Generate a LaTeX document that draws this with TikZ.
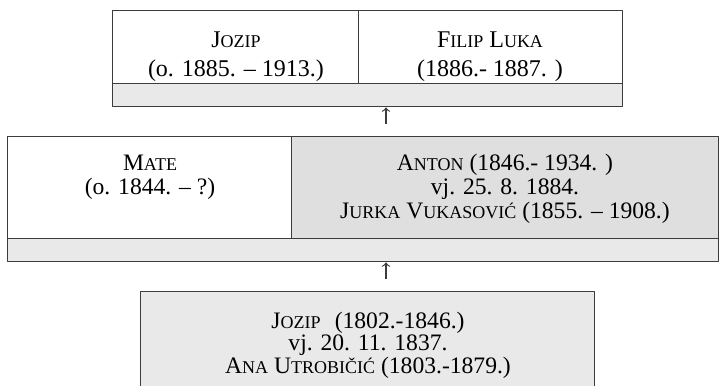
\documentclass[tikz,border=0pt]{standalone}
\usepackage{fontspec}
\setmainfont{LiberationSerif-Regular.ttf}
\newcommand\kap[1]{{\fontsize{9}{10}\selectfont\MakeUppercase{#1}}}
\definecolor{linegray}{HTML}{3C3C3C}
\definecolor{cellgray}{HTML}{DFDFDF}
\definecolor{bargray}{HTML}{E9E9E9}
\begin{document}
\begin{tikzpicture}[x=0.5pt,y=-0.5pt,line join=round,>=to,
		font=\fontsize{11.8}{12}\selectfont,
		cell/.style={draw=linegray,line width=0.7pt,inner sep=0pt,anchor=north west},
		txt/.style={align=center,inner sep=0pt}]
	\useasboundingbox (0,0) rectangle (719,386);
	% children
	\node[cell,minimum width=123pt,minimum height=36.5pt] (jozipc) at (112,10) {};
	\node[cell,minimum width=132pt,minimum height=36.5pt] (filip) at (358,10) {};
	\node[cell,fill=bargray,minimum width=255pt,minimum height=11.5pt] (topbar) at (112,83) {};
	\node[txt,font=\fontsize{12}{14.5}\selectfont] (jozipt) at (236,57) {J\kap{ozip}\\(o. 1885. – 1913.)};
	\node[txt,font=\fontsize{12}{14.5}\selectfont] (filipt) at (490,57) {F\kap{ilip} L\kap{uka}\\(1886.- 1887. )};
	% parents
	\node[cell,minimum width=142pt,minimum height=51pt] (mate) at (7,136) {};
	\node[cell,fill=cellgray,minimum width=213.5pt,minimum height=51pt] (anton) at (291,136) {};
	\node[cell,fill=bargray,minimum width=355.5pt,minimum height=11.5pt] (midbar) at (7,238) {};
	\node[txt] (matet) at (150,177) {M\kap{ate}\\(o. 1844. – ?)};
	\node[txt] (antont) at (505,189) {A\kap{nton} (1846.- 1934. )\\vj. 25. 8. 1884.\\J\kap{urka} V\kap{ukasović} (1855. – 1908.)};
	% grandparents
	\node[cell,fill=bargray,minimum width=227pt,minimum height=52pt] (ana) at (140,291) {};
	\node[txt,font=\fontsize{11.8}{11.3}\selectfont] (anat) at (368,345) {J\kap{ozip}\hspace{0.6em}(1802.-1846.)\\vj. 20. 11. 1837.\\A\kap{na} U\kap{trobičić} (1803.-1879.)};
	\coordinate (up1) at (386,124);
	\coordinate (up2) at (386,279);
	\draw[->,line width=0.6pt,linegray] (up1) -- (up1 |- topbar.south);
	\draw[->,line width=0.6pt,linegray] (up2) -- (up2 |- midbar.south);
\end{tikzpicture}
\end{document}
